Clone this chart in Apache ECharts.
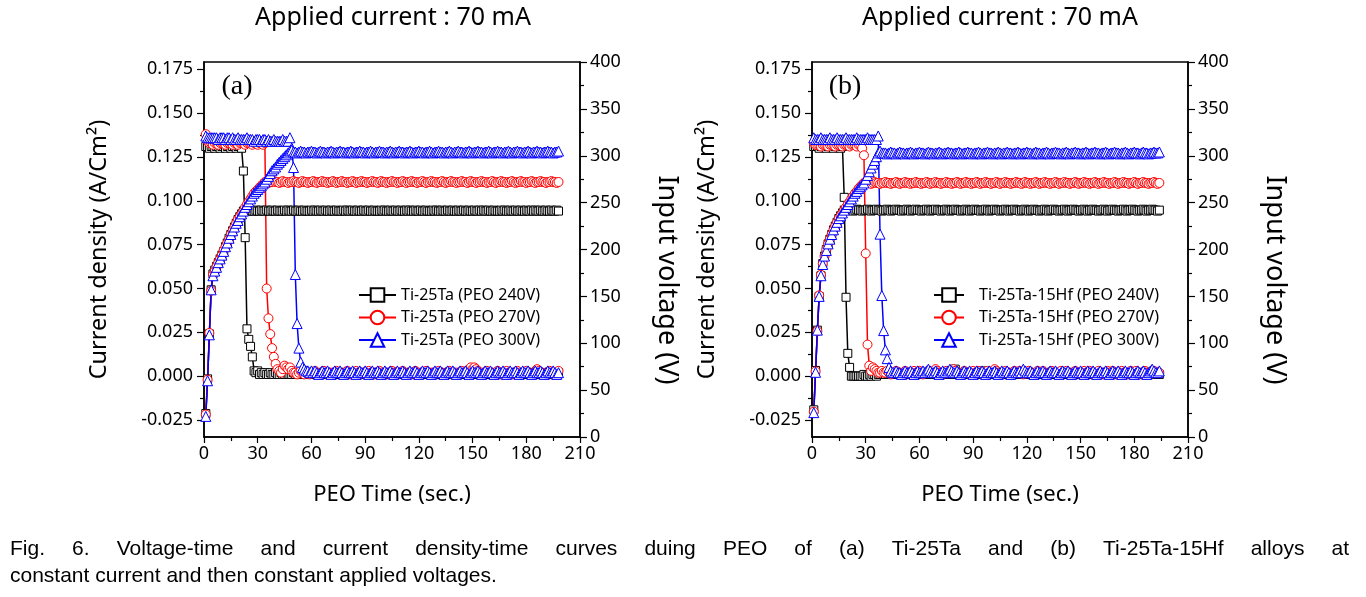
<!DOCTYPE html>
<html><head><meta charset="utf-8">
<script src="https://cdn.jsdelivr.net/npm/echarts@6.0.0/dist/echarts.min.js"></script>
<style>html,body{margin:0;padding:0;background:#fff}#c{width:1366px;height:597px}</style>
</head><body><div id="c"></div>
<script>
// ---------- tick labels ----------
const xTickStep = 30;
const currentTicks = [-0.025,0,0.025,0.05,0.075,0.1,0.125,0.15,0.175];
const currentMinorTicks = [-0.0125,0.0125,0.0375,0.0625,0.0875,0.1125,0.1375,0.1625];
const namesA = ['Ti-25Ta (PEO 240V)','Ti-25Ta (PEO 270V)','Ti-25Ta (PEO 300V)'];
const namesB = ['Ti-25Ta-15Hf (PEO 240V)','Ti-25Ta-15Hf (PEO 270V)','Ti-25Ta-15Hf (PEO 300V)'];

// ---------- panel (a) : Ti-25Ta ----------
const tA = [
1,2,3,4,5,6,7,8,9,10, 11,12,13,14,15,16,17,18,19,20, 21,22,23,24,25,26,27,28,29,30,
31,32,33,34,35,36,37,38,39,40, 41,42,43,44,45,46,47,48,49,50, 51,52,53,54,55,56,57,58,59,60,
61,62,63,64,65,66,67,68,69,70, 71,72,73,74,75,76,77,78,79,80, 81,82,83,84,85,86,87,88,89,90,
91,92,93,94,95,96,97,98,99,100, 101,102,103,104,105,106,107,108,109,110, 111,112,113,114,115,116,117,118,119,120,
121,122,123,124,125,126,127,128,129,130, 131,132,133,134,135,136,137,138,139,140, 141,142,143,144,145,146,147,148,149,150,
151,152,153,154,155,156,157,158,159,160, 161,162,163,164,165,166,167,168,169,170, 171,172,173,174,175,176,177,178,179,180,
181,182,183,184,185,186,187,188,189,190, 191,192,193,194,195,196,197,198];

const vA240 = [
25,62,110,157,174,178,182,186,190,194, 198,203,207,212,216,220,224,228,232,235, 238,241,242,241,241,242,241,241,242,241,
241,242,241,241,242,241,241,242,241,241, 242,241,241,241,242,241,242,241,241,242, 241,241,242,241,241,242,241,241,241,242,
241,242,241,241,242,241,241,242,241,241, 242,241,241,242,241,241,241,242,241,242, 241,241,242,241,241,242,241,241,242,241,
241,242,241,241,242,241,241,241,242,241, 242,241,241,242,241,241,242,241,241,242, 241,241,242,241,242,241,241,242,241,241,
242,241,241,242,241,241,241,242,241,242, 241,241,242,241,241,242,241,241,242,241, 241,242,241,241,242,241,241,242,241,241,
242,241,241,242,241,242,241,241,242,241, 241,242,241,241,241,242,241,242,241,241, 242,241,241,242,241,241,242,241,241,242,
241,241,242,241,242,241,241,242,241,241, 242,241,241,242,241,241,242,241];

const vA270 = [
24,61,111,156,173,177,182,186,190,194, 199,203,207,211,216,220,224,228,232,235, 238,241,245,248,251,254,257,260,262,264,
266,268,270,272,272,271,272,272,273,272, 272,271,272,273,272,272,271,272,272,273, 272,272,271,272,273,272,272,271,272,272,
273,272,271,272,272,273,272,272,271,272, 272,273,272,271,272,272,273,272,272,271, 272,272,273,272,271,272,272,273,272,272,
271,272,272,273,272,272,271,272,273,272, 272,271,272,272,273,272,272,271,272,272, 273,272,271,272,272,273,272,272,271,272,
272,273,272,271,272,272,273,272,272,271, 272,272,273,272,271,272,272,273,272,272, 271,272,272,273,272,272,271,272,273,272,
272,271,272,272,273,272,272,271,272,272, 273,272,271,272,272,273,272,272,271,272, 272,273,272,271,272,272,273,272,272,271,
272,272,273,272,271,272,272,273,272,272, 271,272,272,273,272,272,271,272];

const vA300 = [
22,60,109,157,172,177,181,186,190,194, 198,203,207,212,216,220,224,228,231,235, 238,241,245,248,251,254,257,260,262,264,
266,268,270,272,275,278,281,284,286,288, 291,293,295,297,299,301,303,305,306,304, 304,303,304,305,304,304,303,304,304,305,
304,304,303,304,305,304,304,303,304,304, 305,304,303,304,304,305,304,304,303,304, 304,305,304,303,304,304,305,304,304,303,
304,304,305,304,303,304,304,305,304,304, 303,304,304,305,304,303,304,304,305,304, 304,303,304,304,305,304,303,304,304,305,
304,304,303,304,304,305,304,303,304,304, 305,304,304,303,304,304,305,304,303,304, 304,305,304,304,303,304,304,305,304,303,
304,304,305,304,304,303,304,304,305,304, 303,304,304,305,304,304,303,304,304,305, 304,303,304,304,305,304,304,303,304,304,
305,304,303,304,304,305,304,304,303,304, 304,305,304,304,303,304,304,305];

const iA240 = [
0.131,0.131,0.130,0.131,0.131,0.130,0.131,0.131,0.130,0.131, 0.131,0.130,0.131,0.131,0.130,0.131,0.131,0.130,0.131,0.131,
0.130,0.117,0.079,0.027,0.021,0.017,0.011,0.003,0.002,0.003, 0.001,0.002,0.001,0.002,0.001,0.001,0.002,0.001,0.001,0.002,
0.001,0.001,0.002,0.001,0.001,0.002,0.001,0.001,0.001,0.002, 0.001,0.002,0.001,0.001,0.002,0.001,0.001,0.002,0.001,0.001,
0.002,0.001,0.001,0.002,0.001,0.002,0.001,0.001,0.002,0.001, 0.001,0.002,0.001,0.001,0.002,0.001,0.002,0.001,0.001,0.002,
0.001,0.001,0.002,0.001,0.002,0.001,0.001,0.002,0.001,0.001, 0.002,0.001,0.001,0.002,0.001,0.001,0.002,0.001,0.002,0.001,
0.001,0.002,0.001,0.001,0.002,0.001,0.001,0.002,0.001,0.002, 0.001,0.001,0.002,0.001,0.001,0.002,0.001,0.002,0.001,0.001,
0.002,0.001,0.001,0.002,0.001,0.001,0.002,0.001,0.002,0.001, 0.001,0.002,0.001,0.001,0.002,0.001,0.002,0.001,0.001,0.002,
0.001,0.001,0.002,0.001,0.001,0.002,0.001,0.001,0.002,0.001, 0.002,0.001,0.001,0.002,0.001,0.001,0.002,0.001,0.002,0.001,
0.001,0.002,0.001,0.001,0.002,0.001,0.001,0.002,0.001,0.001, 0.002,0.001,0.002,0.001,0.001,0.002,0.001,0.001,0.002,0.001,
0.001,0.002,0.001,0.002,0.001,0.001,0.002,0.001,0.001,0.002, 0.001,0.001,0.002,0.001,0.002,0.001,0.001,0.002];

const iA270 = [
0.138,0.134,0.133,0.133,0.132,0.133,0.133,0.132,0.133,0.133, 0.133,0.132,0.133,0.133,0.133,0.132,0.133,0.133,0.132,0.133,
0.133,0.133,0.132,0.133,0.133,0.133,0.132,0.133,0.133,0.132, 0.133,0.133,0.132,0.133,0.050,0.033,0.024,0.016,0.011,0.007,
0.004,0.003,0.002,0.004,0.006,0.005,0.004,0.005,0.003,0.002, 0.002,0.001,0.002,0.003,0.002,0.001,0.002,0.002,0.001,0.002,
0.002,0.003,0.002,0.001,0.002,0.002,0.003,0.002,0.001,0.002, 0.002,0.001,0.002,0.003,0.002,0.002,0.001,0.002,0.002,0.003,
0.002,0.001,0.002,0.002,0.003,0.002,0.001,0.002,0.002,0.001, 0.002,0.003,0.002,0.002,0.001,0.002,0.002,0.003,0.002,0.001,
0.002,0.002,0.001,0.002,0.003,0.002,0.002,0.001,0.002,0.002, 0.003,0.002,0.001,0.002,0.002,0.001,0.002,0.003,0.002,0.002,
0.001,0.002,0.002,0.003,0.002,0.001,0.002,0.002,0.001,0.002, 0.003,0.002,0.002,0.001,0.002,0.002,0.003,0.002,0.001,0.002,
0.002,0.001,0.002,0.003,0.002,0.002,0.003,0.004,0.005,0.004, 0.005,0.004,0.003,0.002,0.002,0.001,0.002,0.003,0.002,0.002,
0.001,0.002,0.002,0.003,0.002,0.001,0.002,0.002,0.003,0.002, 0.002,0.001,0.002,0.002,0.003,0.002,0.001,0.002,0.002,0.003,
0.002,0.002,0.001,0.002,0.003,0.004,0.003,0.002,0.002,0.001, 0.002,0.002,0.003,0.002,0.001,0.002,0.002,0.003];

const iA300 = [
0.137,0.136,0.136,0.136,0.136,0.136,0.136,0.135,0.136,0.136, 0.136,0.135,0.136,0.136,0.135,0.136,0.135,0.135,0.136,0.135,
0.135,0.135,0.135,0.136,0.135,0.135,0.135,0.134,0.135,0.135, 0.135,0.134,0.135,0.135,0.134,0.135,0.134,0.134,0.135,0.134,
0.134,0.134,0.134,0.135,0.134,0.134,0.134,0.136,0.130,0.119, 0.058,0.030,0.016,0.008,0.005,0.004,0.003,0.003,0.002,0.003,
0.002,0.003,0.002,0.001,0.002,0.003,0.002,0.002,0.003,0.002, 0.001,0.002,0.003,0.002,0.002,0.003,0.002,0.001,0.002,0.003,
0.002,0.002,0.003,0.002,0.001,0.002,0.003,0.002,0.002,0.003, 0.002,0.001,0.002,0.003,0.002,0.002,0.003,0.002,0.001,0.002,
0.003,0.002,0.002,0.003,0.002,0.001,0.002,0.003,0.002,0.002, 0.003,0.002,0.001,0.002,0.003,0.002,0.002,0.003,0.002,0.001,
0.002,0.003,0.002,0.002,0.003,0.002,0.001,0.002,0.003,0.002, 0.002,0.003,0.002,0.001,0.002,0.003,0.002,0.002,0.003,0.002,
0.001,0.002,0.003,0.002,0.002,0.003,0.002,0.001,0.002,0.003, 0.002,0.002,0.003,0.002,0.001,0.002,0.003,0.002,0.002,0.003,
0.002,0.001,0.002,0.003,0.002,0.002,0.003,0.002,0.001,0.002, 0.003,0.002,0.002,0.003,0.002,0.001,0.002,0.003,0.002,0.002,
0.003,0.002,0.001,0.002,0.003,0.002,0.002,0.003,0.002,0.001, 0.002,0.003,0.002,0.002,0.003,0.002,0.001,0.002];

// ---------- panel (b) : Ti-25Ta-15Hf ----------
const tB = [
1,2,3,4,5,6,7,8,9,10, 11,12,13,14,15,16,17,18,19,20, 21,22,23,24,25,26,27,28,29,30,
31,32,33,34,35,36,37,38,39,40, 41,42,43,44,45,46,47,48,49,50, 51,52,53,54,55,56,57,58,59,60,
61,62,63,64,65,66,67,68,69,70, 71,72,73,74,75,76,77,78,79,80, 81,82,83,84,85,86,87,88,89,90,
91,92,93,94,95,96,97,98,99,100, 101,102,103,104,105,106,107,108,109,110, 111,112,113,114,115,116,117,118,119,120,
121,122,123,124,125,126,127,128,129,130, 131,132,133,134,135,136,137,138,139,140, 141,142,143,144,145,146,147,148,149,150,
151,152,153,154,155,156,157,158,159,160, 161,162,163,164,165,166,167,168,169,170, 171,172,173,174,175,176,177,178,179,180,
181,182,183,184,185,186,187,188,189,190, 191,192,193,194];

const vB240 = [
29,71,114,150,172,185,193,200,206,211, 216,221,225,229,233,236,239,242,242,243, 242,242,241,242,243,242,242,241,242,242,
243,242,241,242,242,243,242,242,241,242, 242,243,242,241,242,242,243,242,242,241, 242,242,243,242,241,242,242,243,242,242,
241,242,242,243,242,241,242,242,243,242, 242,241,242,242,243,242,241,242,242,243, 242,242,241,242,242,243,242,241,242,242,
243,242,242,241,242,242,243,242,241,242, 242,243,242,242,241,242,242,243,242,241, 242,242,243,242,242,241,242,242,243,242,
241,242,242,243,242,242,241,242,242,243, 242,241,242,242,243,242,242,241,242,242, 243,242,241,242,242,243,242,242,241,242,
242,243,242,241,242,242,243,242,242,241, 242,242,243,242,241,242,242,243,242,242, 241,242,242,243,242,241,242,242,243,242,
242,241,242,242,243,242,241,242,242,243, 242,242,241,242];

const vB270 = [
27,70,113,151,173,185,193,200,206,211, 216,221,225,229,233,236,239,242,245,248, 251,254,257,260,262,265,267,269,271,272,
271,271,270,271,272,271,271,270,271,271, 272,271,271,270,271,271,272,271,270,271, 271,272,271,271,270,271,271,272,271,271,
270,271,271,272,271,270,271,271,272,271, 271,270,271,271,272,271,271,270,271,271, 272,271,270,271,271,272,271,271,270,271,
271,272,271,270,271,271,272,271,271,270, 271,271,272,271,270,271,271,272,271,271, 270,271,271,272,271,271,270,271,272,271,
271,270,271,271,272,271,270,271,271,272, 271,271,270,271,271,272,271,270,271,271, 272,271,271,270,271,271,272,271,270,271,
271,272,271,271,270,271,271,272,271,270, 271,271,272,271,271,270,271,271,272,271, 270,271,271,272,271,271,270,271,271,272,
271,270,271,271,272,271,271,270,271,271, 272,271,270,271];

const vB300 = [
26,69,114,150,172,184,193,199,206,211, 216,221,225,229,233,236,239,242,245,248, 251,254,257,260,262,265,267,269,271,275,
279,283,287,291,295,299,303,305,303,303, 303,302,303,304,303,303,302,303,304,303, 303,302,303,303,304,303,302,303,303,304,
303,303,302,303,304,303,303,302,303,303, 304,303,302,303,303,304,303,303,302,303, 303,304,303,302,303,303,304,303,303,302,
303,303,304,303,302,303,303,304,303,303, 302,303,303,304,303,302,303,303,304,303, 303,302,303,303,304,303,302,303,303,304,
303,303,302,303,304,303,303,302,303,303, 304,303,302,303,303,304,303,303,302,303, 303,304,303,302,303,303,304,303,303,302,
303,303,304,303,302,303,303,304,303,303, 302,303,303,304,303,302,303,303,304,303, 303,302,303,303,304,303,302,303,303,304,
303,303,302,303,304,303,303,302,303,303, 304,303,303,304];

const iB240 = [
0.131,0.131,0.131,0.130,0.131,0.131,0.131,0.130,0.131,0.131, 0.131,0.130,0.131,0.131,0.131,0.130,0.131,0.102,0.045,0.013,
0.005,0.000,0.000,0.000,0.000,0.000,0.000,0.000,0.001,0.000, 0.000,0.001,0.000,0.001,0.001,0.000,0.001,0.001,0.002,0.001,
0.001,0.002,0.001,0.001,0.002,0.001,0.001,0.002,0.001,0.001, 0.002,0.001,0.001,0.002,0.001,0.001,0.002,0.001,0.001,0.002,
0.001,0.001,0.002,0.001,0.002,0.001,0.001,0.002,0.001,0.001, 0.002,0.001,0.001,0.002,0.001,0.001,0.002,0.001,0.002,0.004,
0.002,0.001,0.001,0.002,0.001,0.002,0.001,0.001,0.002,0.001, 0.001,0.002,0.001,0.002,0.003,0.002,0.001,0.001,0.002,0.001,
0.001,0.002,0.001,0.001,0.002,0.001,0.002,0.001,0.001,0.002, 0.001,0.001,0.002,0.001,0.002,0.001,0.001,0.002,0.001,0.001,
0.002,0.001,0.001,0.002,0.001,0.002,0.001,0.001,0.002,0.001, 0.001,0.002,0.001,0.001,0.002,0.001,0.002,0.001,0.001,0.002,
0.001,0.001,0.002,0.001,0.002,0.001,0.001,0.002,0.001,0.001, 0.002,0.001,0.001,0.002,0.001,0.002,0.001,0.001,0.002,0.001,
0.001,0.002,0.001,0.001,0.002,0.001,0.002,0.001,0.001,0.002, 0.001,0.001,0.002,0.001,0.002,0.001,0.001,0.002,0.001,0.001,
0.002,0.001,0.001,0.002,0.001,0.002,0.001,0.001,0.002,0.001, 0.001,0.002,0.001,0.001];

const iB270 = [
0.133,0.132,0.132,0.132,0.131,0.132,0.132,0.132,0.131,0.132, 0.132,0.132,0.131,0.132,0.132,0.132,0.131,0.132,0.132,0.132,
0.131,0.132,0.132,0.132,0.131,0.132,0.132,0.130,0.126,0.070, 0.018,0.006,0.003,0.005,0.004,0.003,0.002,0.002,0.003,0.002,
0.002,0.003,0.002,0.001,0.002,0.002,0.003,0.002,0.002,0.001, 0.002,0.003,0.002,0.002,0.001,0.002,0.003,0.002,0.002,0.003,
0.002,0.001,0.002,0.002,0.003,0.002,0.002,0.003,0.004,0.003, 0.002,0.002,0.001,0.002,0.003,0.002,0.002,0.003,0.004,0.003,
0.002,0.002,0.001,0.002,0.003,0.002,0.002,0.001,0.002,0.003, 0.002,0.002,0.003,0.002,0.001,0.002,0.002,0.003,0.002,0.002,
0.003,0.004,0.003,0.002,0.002,0.001,0.002,0.003,0.002,0.002, 0.001,0.002,0.003,0.002,0.002,0.003,0.002,0.001,0.002,0.002,
0.003,0.002,0.002,0.001,0.002,0.003,0.002,0.002,0.003,0.002, 0.001,0.002,0.002,0.003,0.002,0.002,0.001,0.002,0.003,0.002,
0.002,0.003,0.002,0.001,0.002,0.002,0.003,0.002,0.002,0.001, 0.002,0.003,0.002,0.002,0.003,0.002,0.001,0.002,0.002,0.003,
0.002,0.002,0.001,0.002,0.003,0.002,0.002,0.003,0.002,0.001, 0.002,0.002,0.003,0.002,0.002,0.001,0.002,0.003,0.002,0.002,
0.003,0.002,0.001,0.002,0.002,0.003,0.002,0.002,0.001,0.002, 0.003,0.002,0.002,0.002];

const iB300 = [
0.136,0.135,0.135,0.135,0.136,0.135,0.135,0.135,0.135,0.136, 0.135,0.135,0.135,0.136,0.135,0.135,0.135,0.135,0.136,0.135,
0.135,0.135,0.135,0.135,0.136,0.135,0.135,0.135,0.135,0.135, 0.136,0.135,0.135,0.135,0.135,0.135,0.137,0.081,0.046,0.026,
0.015,0.010,0.005,0.003,0.002,0.002,0.003,0.002,0.002,0.001, 0.002,0.003,0.002,0.002,0.003,0.002,0.001,0.002,0.003,0.002,
0.002,0.003,0.002,0.003,0.004,0.003,0.002,0.002,0.003,0.002, 0.001,0.002,0.003,0.002,0.002,0.003,0.004,0.003,0.002,0.002,
0.003,0.002,0.001,0.002,0.003,0.002,0.002,0.003,0.002,0.001, 0.002,0.003,0.002,0.002,0.003,0.002,0.001,0.002,0.003,0.002,
0.002,0.003,0.002,0.001,0.002,0.003,0.002,0.002,0.003,0.002, 0.001,0.002,0.003,0.002,0.002,0.003,0.002,0.004,0.003,0.002,
0.002,0.003,0.002,0.001,0.002,0.003,0.002,0.002,0.003,0.002, 0.001,0.002,0.003,0.002,0.002,0.003,0.002,0.001,0.002,0.003,
0.002,0.002,0.003,0.002,0.001,0.002,0.003,0.002,0.002,0.003, 0.002,0.001,0.002,0.003,0.002,0.002,0.003,0.002,0.001,0.002,
0.003,0.002,0.002,0.003,0.002,0.001,0.002,0.003,0.002,0.002, 0.003,0.002,0.001,0.002,0.003,0.002,0.002,0.003,0.002,0.001,
0.002,0.003,0.002,0.002,0.003,0.002,0.001,0.002,0.003,0.004, 0.003,0.002,0.002,0.003];

const caption1 = ['Fig.','6.','Voltage-time','and','current','density-time','curves','duing','PEO','of','(a)','Ti-25Ta','and','(b)','Ti-25Ta-15Hf','alloys','at'];
const caption2 = 'constant current and then constant applied voltages.';

// ---------- build ----------
const FONT = 'Noto Sans';
const BLACK = '#000000', RED = '#ff0000', BLUE = '#0000ff';
const pairs = (t, v) => v.map((y, i) => [t[i], y]);

function xAx(g){
  return {type:'value', gridIndex:g, min:0, max:210, interval:xTickStep,
    axisLine:{show:true, onZero:false, lineStyle:{color:'#000', width:1.5}},
    axisTick:{show:true, inside:false, length:6, lineStyle:{color:'#000', width:1.2}},
    minorTick:{show:true, splitNumber:2, length:4, lineStyle:{color:'#000', width:1.2}},
    axisLabel:{color:'#000', fontSize:18, fontFamily:FONT, margin:8},
    splitLine:{show:false},
    name:'PEO Time (sec.)', nameLocation:'middle', nameGap:47,
    nameTextStyle:{color:'#000', fontSize:22, fontFamily:FONT}};
}
function yCur(g){
  return {type:'value', gridIndex:g, position:'left', min:-0.0347, max:0.1792,
    axisLine:{show:true, onZero:false, lineStyle:{color:'#000', width:1.5}},
    axisTick:{show:true, inside:false, length:7, customValues:currentTicks, lineStyle:{color:'#000', width:1.2}},
    axisLabel:{show:true, customValues:currentTicks, formatter:v=>Number(v).toFixed(3), color:'#000', fontSize:18, fontFamily:FONT, margin:11},
    splitLine:{show:false},
    name:'Current density (A/Cm²)', nameLocation:'middle', nameGap:93, nameRotate:90,
    nameTextStyle:{color:'#000', fontSize:23.5, fontFamily:FONT}};
}
function yCurMinor(g){
  return {type:'value', gridIndex:g, position:'left', min:-0.0347, max:0.1792,
    axisLine:{show:false},
    axisTick:{show:true, inside:false, length:4, customValues:currentMinorTicks, lineStyle:{color:'#000', width:1.2}},
    axisLabel:{show:false}, splitLine:{show:false}};
}
function yVolt(g){
  return {type:'value', gridIndex:g, position:'right', min:0, max:400, interval:50,
    axisLine:{show:true, onZero:false, lineStyle:{color:'#000', width:1.5}},
    axisTick:{show:true, inside:false, length:7, lineStyle:{color:'#000', width:1.2}},
    minorTick:{show:true, splitNumber:2, length:4, lineStyle:{color:'#000', width:1.2}},
    axisLabel:{color:'#000', fontSize:18, fontFamily:FONT, margin:10},
    splitLine:{show:false}, minorSplitLine:{show:false}};
}
function ser(name, color, symbol, size, t, v, xi, yi){
  return {type:'line', name, xAxisIndex:xi, yAxisIndex:yi, data:pairs(t, v),
    symbol, symbolSize:size, showSymbol:true, showAllSymbol:true, animation:false, silent:true,
    lineStyle:{color, width:1.5}, itemStyle:{color:'#ffffff', borderColor:color, borderWidth:1},
    emphasis:{disabled:true}};
}

const series = [
  ser(namesA[0], BLACK, 'rect', 8, tA, iA240, 0, 0),
  ser(namesA[0], BLACK, 'rect', 8, tA, vA240, 0, 1),
  ser(namesA[1], RED, 'circle', 9, tA, iA270, 0, 0),
  ser(namesA[1], RED, 'circle', 9, tA, vA270, 0, 1),
  ser(namesA[2], BLUE, 'triangle', 10, tA, iA300, 0, 0),
  ser(namesA[2], BLUE, 'triangle', 10, tA, vA300, 0, 1),
  ser(namesB[0], BLACK, 'rect', 8, tB, iB240, 1, 3),
  ser(namesB[0], BLACK, 'rect', 8, tB, vB240, 1, 4),
  ser(namesB[1], RED, 'circle', 9, tB, iB270, 1, 3),
  ser(namesB[1], RED, 'circle', 9, tB, vB270, 1, 4),
  ser(namesB[2], BLUE, 'triangle', 10, tB, iB300, 1, 3),
  ser(namesB[2], BLUE, 'triangle', 10, tB, vB300, 1, 4)
];

// caption (justified first line)
const CAP_FONT = 'Liberation Sans', CAP_SIZE = 21;
const ctx = document.createElement('canvas').getContext('2d');
ctx.font = CAP_SIZE + 'px "' + CAP_FONT + '"';
const capX0 = 10, capX1 = 1349;
const widths = caption1.map(w => ctx.measureText(w).width);
const gap = (capX1 - capX0 - widths.reduce((a,b)=>a+b,0)) / (caption1.length - 1);
const graphics = [];
let cx = capX0;
caption1.forEach((w, i) => {
  graphics.push({type:'text', x:cx, y:549, style:{text:w, fontSize:CAP_SIZE, fontFamily:CAP_FONT, fill:'#000', textAlign:'left', textVerticalAlign:'middle'}});
  cx += widths[i] + gap;
});
graphics.push({type:'text', x:capX0, y:576, style:{text:caption2, fontSize:CAP_SIZE, fontFamily:CAP_FONT, fill:'#000', textAlign:'left', textVerticalAlign:'middle'}});
[['Applied current : 70 mA', 393], ['Applied current : 70 mA', 1000]].forEach(([s, x]) => {
  graphics.push({type:'text', x, y:18, style:{text:s, fontSize:25, fontFamily:FONT, fill:'#000', textAlign:'center', textVerticalAlign:'middle'}});
});
[['(a)', 237], ['(b)', 845]].forEach(([s, x]) => {
  graphics.push({type:'text', x, y:87, style:{text:s, fontSize:28, fontFamily:'Liberation Serif', fill:'#000', textAlign:'center', textVerticalAlign:'middle'}});
});
// right axis titles (read top to bottom)
[667, 1275].forEach(x => {
  graphics.push({type:'text', x, y:280, rotation:-Math.PI/2, style:{text:'Input voltage (V)', fontSize:27, fontFamily:FONT, fill:'#000', textAlign:'center', textVerticalAlign:'middle'}});
});

const legendBase = {orient:'vertical', padding:0, itemHeight:17, itemGap:6.5, selectedMode:false,
  textStyle:{color:'#000', fontSize:16, fontFamily:FONT}};

const option = {
  animation:false,
  backgroundColor:'#ffffff',
  grid:[
    {left:204, top:62, width:376, height:375, show:true, borderColor:'#000', borderWidth:1.5, containLabel:false},
    {left:812, top:62, width:376, height:375, show:true, borderColor:'#000', borderWidth:1.5, containLabel:false}
  ],
  xAxis:[xAx(0), xAx(1)],
  yAxis:[yCur(0), yVolt(0), yCurMinor(0), yCur(1), yVolt(1), yCurMinor(1)],
  legend:[
    Object.assign({}, legendBase, {left:358, top:287, itemWidth:37, data:namesA}),
    Object.assign({}, legendBase, {left:933, top:287, itemWidth:30, data:namesB,
      textStyle:{color:'#000', fontSize:16, fontFamily:FONT, padding:[0,0,0,10]}})
  ],
  graphic:graphics,
  series
};
const chart = echarts.init(document.getElementById('c'), null, {renderer:'canvas', width:1366, height:597});
chart.setOption(option);
</script>
</body></html>
